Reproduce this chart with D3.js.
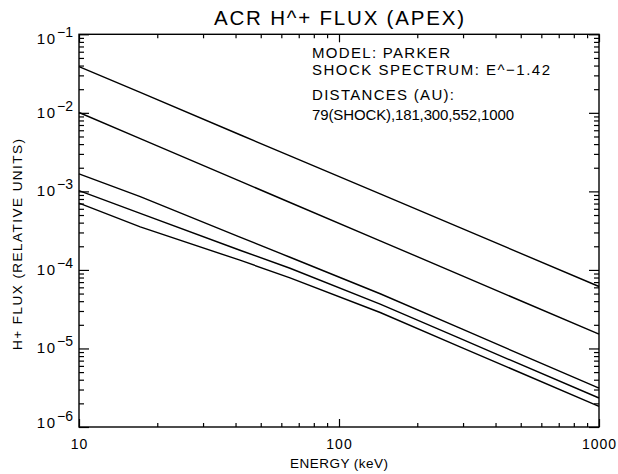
<!DOCTYPE html>
<html>
<head>
<meta charset="utf-8">
<script src="https://cdn.jsdelivr.net/npm/d3@7"></script>
<style>
  body { margin: 0; background: #fff; }
  text { font-family: "Liberation Sans", Arial, sans-serif; fill: #000; }
</style>
</head>
<body>
<div id="chart"></div>
<script>
// Data
const energies = [10, 17.2, 41.6, 64.8, 144, 292, 1000];   // keV
const distances = ["79", "181", "300", "552", "1000"];    // AU
const flux79   = [3.87e-2, 1.82e-2, 5.26e-3, 2.84e-3, 9.29e-4, 3.45e-4, 6.15e-5];
const flux181  = [1.01e-2, 4.70e-3, 1.35e-3, 7.22e-4, 2.35e-4, 8.64e-5, 1.52e-5];
const flux300  = [1.67e-3, 8.59e-4, 2.62e-4, 1.45e-4, 4.97e-5, 1.81e-5, 3.13e-6];
const flux552  = [1.02e-3, 5.25e-4, 1.78e-4, 1.05e-4, 3.67e-5, 1.34e-5, 2.34e-6];
const flux1000 = [7.08e-4, 3.53e-4, 1.33e-4, 7.93e-5, 2.87e-5, 1.05e-5, 1.83e-6];

const xMajor = [10, 100, 1000];
const yExponents = [-6, -5, -4, -3, -2, -1];
const notes = ["MODEL: PARKER", "SHOCK SPECTRUM: E^\u22121.42", "DISTANCES (AU):", "79(SHOCK),181,300,552,1000"];

const series = [flux79, flux181, flux300, flux552, flux1000];

const width = 618, height = 474;
const plot = {left: 79, right: 599, top: 34.3, bottom: 427};

const svg = d3.select("#chart").append("svg")
    .attr("width", width)
    .attr("height", height);

const x = d3.scaleLog().domain([10, 1000]).range([plot.left, plot.right]);
const y = d3.scaleLog().domain([1e-6, 1e-1]).range([plot.bottom, plot.top]);

// minor ticks 2..9 in each decade
let xMinor = [];
[10, 100].forEach(d => { for (let k = 2; k <= 9; k++) xMinor.push(d * k); });
let yMinor = [];
yExponents.slice(0, -1).forEach(e => { for (let k = 2; k <= 9; k++) yMinor.push(k * Math.pow(10, e)); });
const yMajor = yExponents.map(e => Math.pow(10, e));

function tickAxis(axis, vals, size, tx, ty) {
    const g = svg.append("g")
        .attr("transform", `translate(${tx},${ty})`)
        .call(axis.tickValues(vals).tickSize(size).tickFormat(""));
    g.select(".domain").remove();
    g.selectAll("line").attr("stroke", "#000").attr("stroke-width", 1.2);
}

// ticks pointing inward on all four sides
tickAxis(d3.axisBottom(x), xMajor, -8, 0, plot.bottom);
tickAxis(d3.axisBottom(x), xMinor, -4, 0, plot.bottom);
tickAxis(d3.axisTop(x), xMajor, -8, 0, plot.top);
tickAxis(d3.axisTop(x), xMinor, -4, 0, plot.top);
tickAxis(d3.axisLeft(y), yMajor, -10, plot.left, 0);
tickAxis(d3.axisLeft(y), yMinor, -5, plot.left, 0);
tickAxis(d3.axisRight(y), yMajor, -10, plot.right, 0);
tickAxis(d3.axisRight(y), yMinor, -5, plot.right, 0);

// frame
svg.append("rect")
    .attr("x", plot.left).attr("y", plot.top)
    .attr("width", plot.right - plot.left)
    .attr("height", plot.bottom - plot.top)
    .attr("fill", "none")
    .attr("stroke", "#000")
    .attr("stroke-width", 1.4);

// curves
const line = d3.line()
    .x((d, i) => x(energies[i]))
    .y(d => y(d));

svg.selectAll(".flux")
    .data(series)
    .enter()
    .append("path")
    .attr("class", "flux")
    .attr("d", line)
    .attr("fill", "none")
    .attr("stroke", "#000")
    .attr("stroke-width", 1.4);

// x tick labels
svg.selectAll(".xlab")
    .data(xMajor)
    .enter()
    .append("text")
    .attr("x", d => x(d) + 0.5)
    .attr("y", 449)
    .attr("text-anchor", "middle")
    .style("font-size", "14px")
    .style("letter-spacing", "1px")
    .text(d => d);

// y tick labels 10^e
const ylab = svg.selectAll(".ylab")
    .data(yExponents)
    .enter()
    .append("text")
    .attr("x", 73)
    .attr("y", d => Math.max(44, Math.min(428, y(Math.pow(10, d)) + 5)))
    .attr("text-anchor", "end")
    .style("font-size", "15px");
ylab.append("tspan").style("letter-spacing", "1.5px").text("10");
ylab.append("tspan")
    .attr("dy", -7)
    .attr("dx", 0.5)
    .style("font-size", "14px")
    .text(d => "\u2212" + Math.abs(d));

// title
svg.append("text")
    .attr("x", 214).attr("y", 25)
    .attr("textLength", 250)
    .attr("lengthAdjust", "spacing")
    .style("font-size", "20.5px")
    .text("ACR H^+ FLUX (APEX)");

// axis titles
svg.append("text")
    .attr("x", 290).attr("y", 468)
    .attr("textLength", 98)
    .attr("lengthAdjust", "spacing")
    .style("font-size", "13.5px")
    .text("ENERGY (keV)");

svg.append("text")
    .attr("transform", "translate(22,350) rotate(-90)")
    .attr("textLength", 211)
    .attr("lengthAdjust", "spacing")
    .style("font-size", "13.5px")
    .text("H+ FLUX (RELATIVE UNITS)");

// annotation block
const noteY = [58, 75, 100, 120];
const noteW = [138, 238, 142, 202];
notes.forEach((t, i) => {
    svg.append("text")
        .attr("x", 312).attr("y", noteY[i])
        .attr("textLength", noteW[i])
        .attr("lengthAdjust", "spacing")
        .style("font-size", "15px")
        .text(t);
});
</script>
</body>
</html>
